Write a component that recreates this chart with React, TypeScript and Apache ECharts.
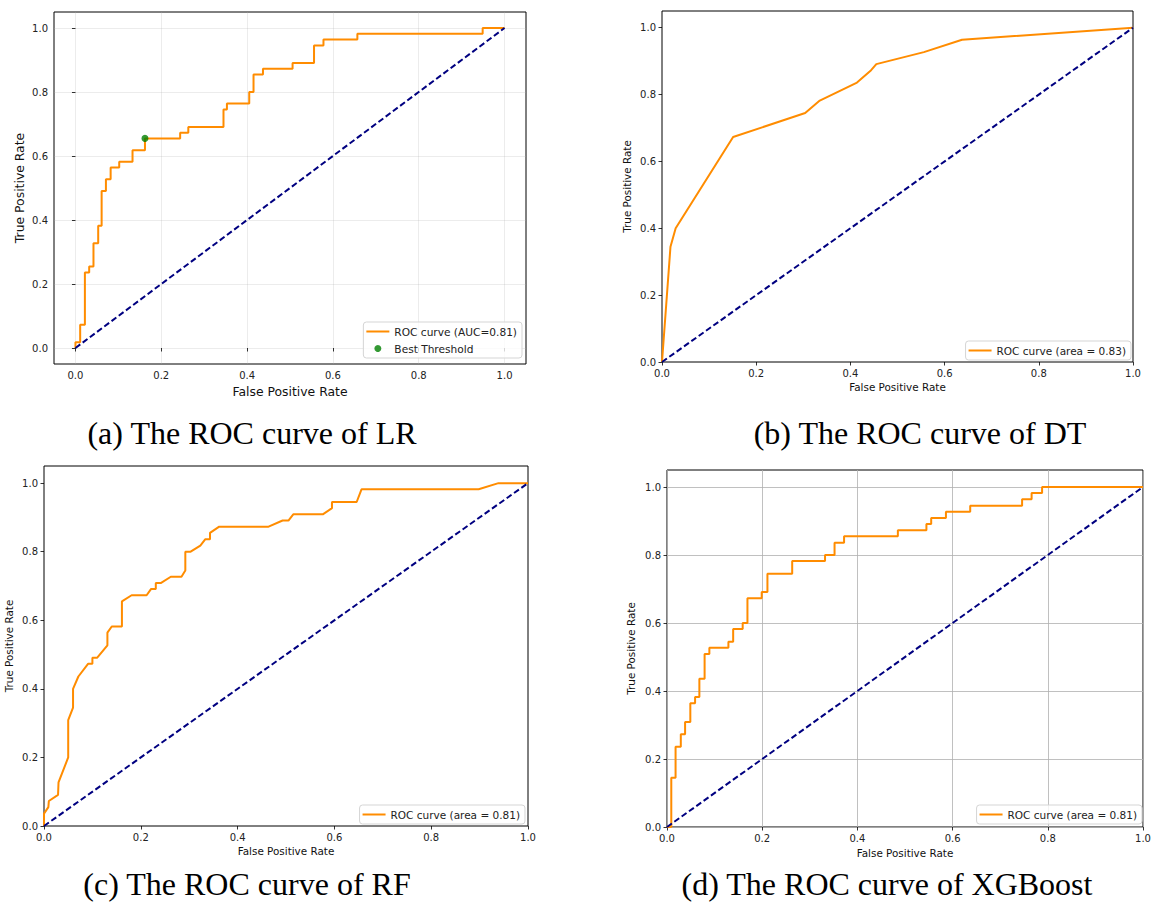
import React, { useEffect, useRef } from "react";
import * as echarts from "echarts";

// ---------- data ----------
const tickValues = [0, 0.2, 0.4, 0.6, 0.8, 1.0];
const chanceFpr = [0, 1];
const chanceTpr = [0, 1];

// (a) Logistic regression ROC (corner points)
const lrFpr = [0, 0, 0.011, 0.011, 0.022, 0.022, 0.032, 0.032, 0.042, 0.042, 0.053, 0.053, 0.061, 0.061, 0.071, 0.071, 0.082, 0.082, 0.102, 0.102, 0.133, 0.133, 0.162, 0.162, 0.244, 0.244, 0.263, 0.263, 0.345, 0.345, 0.353, 0.353, 0.405, 0.405, 0.415, 0.415, 0.437, 0.437, 0.506, 0.506, 0.556, 0.556, 0.578, 0.578, 0.657, 0.657, 0.949, 0.949, 1.0];
const lrTpr = [0, 0.018, 0.018, 0.073, 0.073, 0.236, 0.236, 0.255, 0.255, 0.327, 0.327, 0.382, 0.382, 0.491, 0.491, 0.527, 0.527, 0.564, 0.564, 0.582, 0.582, 0.618, 0.618, 0.655, 0.655, 0.673, 0.673, 0.691, 0.691, 0.745, 0.745, 0.764, 0.764, 0.8, 0.8, 0.855, 0.855, 0.873, 0.873, 0.891, 0.891, 0.945, 0.945, 0.964, 0.964, 0.982, 0.982, 1.0, 1.0];
const bestThresholdFpr = [0.162];
const bestThresholdTpr = [0.655];

// (b) Decision tree ROC
const dtFpr = [0, 0.018, 0.029, 0.151, 0.304, 0.335, 0.414, 0.444, 0.455, 0.556, 0.637, 1.0];
const dtTpr = [0, 0.345, 0.4, 0.673, 0.745, 0.782, 0.836, 0.873, 0.891, 0.927, 0.964, 1.0];

// (c) Random forest ROC
const rfFpr = [0, 0, 0.009, 0.01, 0.029, 0.03, 0.05, 0.05, 0.06, 0.06, 0.071, 0.091, 0.1, 0.1, 0.11, 0.131, 0.131, 0.14, 0.161, 0.161, 0.181, 0.212, 0.221, 0.231, 0.231, 0.242, 0.262, 0.284, 0.292, 0.292, 0.303, 0.323, 0.333, 0.343, 0.343, 0.362, 0.464, 0.493, 0.505, 0.515, 0.576, 0.595, 0.595, 0.646, 0.656, 0.898, 0.939, 1.0];
const rfTpr = [0, 0.036, 0.055, 0.073, 0.091, 0.127, 0.2, 0.309, 0.345, 0.4, 0.436, 0.473, 0.473, 0.491, 0.491, 0.527, 0.564, 0.582, 0.582, 0.655, 0.673, 0.673, 0.691, 0.691, 0.709, 0.709, 0.727, 0.727, 0.745, 0.8, 0.8, 0.818, 0.836, 0.836, 0.855, 0.873, 0.873, 0.891, 0.891, 0.909, 0.909, 0.927, 0.945, 0.945, 0.982, 0.982, 1.0, 1.0];

// (d) XGBoost ROC (corner points)
const xgbFpr = [0, 0.009, 0.009, 0.018, 0.018, 0.029, 0.029, 0.038, 0.038, 0.049, 0.049, 0.059, 0.059, 0.068, 0.068, 0.079, 0.079, 0.089, 0.089, 0.129, 0.129, 0.139, 0.139, 0.159, 0.159, 0.169, 0.169, 0.199, 0.199, 0.211, 0.211, 0.263, 0.263, 0.332, 0.332, 0.352, 0.352, 0.372, 0.372, 0.485, 0.485, 0.545, 0.545, 0.555, 0.555, 0.586, 0.586, 0.637, 0.637, 0.746, 0.746, 0.766, 0.766, 0.788, 0.788, 1.0];
const xgbTpr = [0, 0, 0.145, 0.145, 0.236, 0.236, 0.273, 0.273, 0.309, 0.309, 0.364, 0.364, 0.382, 0.382, 0.436, 0.436, 0.509, 0.509, 0.527, 0.527, 0.545, 0.545, 0.582, 0.582, 0.6, 0.6, 0.673, 0.673, 0.691, 0.691, 0.745, 0.745, 0.782, 0.782, 0.8, 0.8, 0.836, 0.836, 0.855, 0.855, 0.873, 0.873, 0.891, 0.891, 0.909, 0.909, 0.927, 0.927, 0.945, 0.945, 0.964, 0.964, 0.982, 0.982, 1.0, 1.0];

const rocLabels = [
  "ROC curve (AUC=0.81)",
  "ROC curve (area = 0.83)",
  "ROC curve (area = 0.81)",
  "ROC curve (area = 0.81)",
];
const bestThresholdLabel = "Best Threshold";
const captions = [
  "(a) The ROC curve of LR",
  "(b) The ROC curve of DT",
  "(c) The ROC curve of RF",
  "(d) The ROC curve of XGBoost",
];
const xAxisTitle = "False Positive Rate";
const yAxisTitle = "True Positive Rate";

// ---------- layout / style ----------
const FONT = "DejaVu Sans";
const ORANGE = "#ff8c00";
const NAVY = "#000080";
const LINE_ICON = "path://M0,0L23,0L23,2L0,2Z";

const panels = [
  {
    fpr: lrFpr, tpr: lrTpr,
    grid: { left: 54, top: 12, width: 472, height: 352 },
    xMin: -0.05, xMax: 1.05, yMin: -0.05, yMax: 1.05,
    tickFont: 10, nameFont: 12.4, legendFont: 10.6,
    xNameGap: 21, yNameGap: 29,
    splitColor: "rgba(176,176,176,0.3)",
    legend: { right: 632, bottom: 553 },
    caption: { x: 252, y: 433 },
  },
  {
    fpr: dtFpr, tpr: dtTpr,
    grid: { left: 662, top: 11, width: 471, height: 351 },
    xMin: 0, xMax: 1, yMin: 0, yMax: 1.05,
    tickFont: 10, nameFont: 10.4, legendFont: 10.5,
    xNameGap: 20, yNameGap: 30,
    splitColor: null,
    legend: { right: 23, bottom: 551 },
    caption: { x: 920, y: 433 },
  },
  {
    fpr: rfFpr, tpr: rfTpr,
    grid: { left: 44, top: 466, width: 484, height: 360 },
    xMin: 0, xMax: 1, yMin: 0, yMax: 1.05,
    tickFont: 10, nameFont: 10.4, legendFont: 10.5,
    xNameGap: 20, yNameGap: 30,
    splitColor: null,
    legend: { right: 629, bottom: 87 },
    caption: { x: 247, y: 884 },
  },
  {
    fpr: xgbFpr, tpr: xgbTpr,
    grid: { left: 667, top: 470, width: 476, height: 357 },
    xMin: 0, xMax: 1, yMin: 0, yMax: 1.05,
    tickFont: 10, nameFont: 10.4, legendFont: 10.5,
    xNameGap: 21, yNameGap: 31,
    splitColor: "#b0b0b0",
    legend: { right: 12, bottom: 87 },
    caption: { x: 887, y: 884 },
  },
];

const zip = (a: number[], b: number[]) => a.map((v, i) => [v, b[i]]);

function buildOption() {
  const grid: any[] = [];
  const xAxis: any[] = [];
  const yAxis: any[] = [];
  const series: any[] = [];
  const legend: any[] = [];
  const graphic: any[] = [];

  panels.forEach((p, i) => {
    grid.push({
      ...p.grid,
      show: true,
      borderColor: "#000",
      borderWidth: 1,
      backgroundColor: "transparent",
      containLabel: false,
    });
    const common = (min: number, max: number, gap: number, name: string) => ({
      gridIndex: i,
      type: "value",
      min,
      max,
      name,
      nameLocation: "middle",
      nameGap: gap,
      nameTextStyle: { fontFamily: FONT, fontSize: p.nameFont, color: "#111" },
      axisLine: { show: false },
      axisTick: {
        show: true,
        length: 3.5,
        inside: false,
        customValues: tickValues,
        lineStyle: { color: "#000", width: 0.8 },
      },
      axisLabel: {
        customValues: tickValues,
        formatter: (v: number) => v.toFixed(1),
        fontFamily: FONT,
        fontSize: p.tickFont,
        color: "#222",
        margin: 6,
        showMinLabel: true,
        showMaxLabel: true,
      },
      splitLine: {
        show: !!p.splitColor,
        lineStyle: { color: p.splitColor || "#ccc", width: 0.8 },
      },
    });
    xAxis.push(common(p.xMin, p.xMax, p.xNameGap, xAxisTitle));
    yAxis.push(common(p.yMin, p.yMax, p.yNameGap, yAxisTitle));

    series.push({
      type: "line",
      name: rocLabels[i],
      xAxisIndex: i,
      yAxisIndex: i,
      data: zip(p.fpr, p.tpr),
      symbol: "none",
      lineStyle: { color: ORANGE, width: 2 },
      itemStyle: { color: ORANGE },
      z: 2,
    });
    series.push({
      type: "line",
      name: "chance" + i,
      xAxisIndex: i,
      yAxisIndex: i,
      data: zip(chanceFpr, chanceTpr),
      symbol: "none",
      lineStyle: { color: NAVY, width: 2, type: [6, 3] },
      itemStyle: { color: NAVY },
      z: 3,
    });

    const legendData: any[] = [{ name: rocLabels[i], icon: LINE_ICON }];
    if (i === 0) {
      series.push({
        type: "scatter",
        name: bestThresholdLabel,
        xAxisIndex: 0,
        yAxisIndex: 0,
        data: zip(bestThresholdFpr, bestThresholdTpr),
        symbol: "circle",
        symbolSize: 7,
        itemStyle: { color: "#008000" },
        z: 4,
      });
      legendData.push({ name: bestThresholdLabel, icon: "circle" });
    }
    legend.push({
      data: legendData,
      orient: "vertical",
      right: p.legend.right,
      bottom: p.legend.bottom,
      itemWidth: 23,
      itemHeight: 7,
      itemGap: 6,
      padding: [4, 5, 4, 3],
      backgroundColor: "rgba(255,255,255,0.8)",
      borderColor: "#d5d5d5",
      borderWidth: 1,
      borderRadius: 3,
      selectedMode: false,
      textStyle: { fontFamily: FONT, fontSize: p.legendFont, color: "#222" },
    });

    graphic.push({
      type: "text",
      x: p.caption.x,
      y: p.caption.y,
      style: {
        text: captions[i],
        fontFamily: "Liberation Serif",
        fontSize: 32,
        fill: "#000",
        align: "center",
        verticalAlign: "middle",
        textAlign: "center",
        textVerticalAlign: "middle",
      },
    });
  });

  return {
    animation: false,
    backgroundColor: "#fff",
    grid,
    xAxis,
    yAxis,
    series,
    legend,
    graphic,
  };
}

export default function App() {
  const ref = useRef<HTMLDivElement>(null);
  useEffect(() => {
    document.body.style.margin = "0";
    if (!ref.current) return;
    const chart = echarts.init(ref.current, undefined, { renderer: "svg" });
    chart.setOption(buildOption() as any);
    return () => chart.dispose();
  }, []);
  return <div ref={ref} style={{ width: 1154, height: 911 }} />;
}
